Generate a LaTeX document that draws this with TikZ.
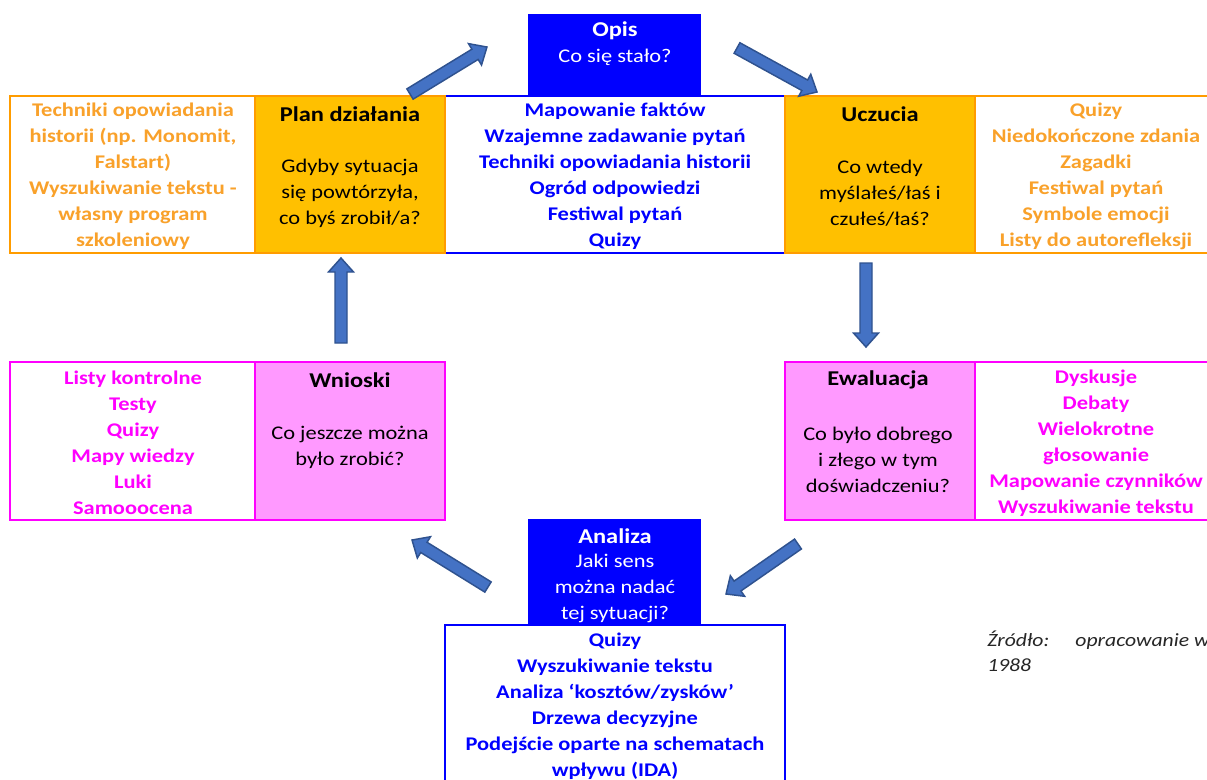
\documentclass[tikz,border=0pt]{standalone}
\usepackage{fontspec}
\setmainfont{Carlito}[FakeStretch=1.16]
\usetikzlibrary{calc}
\definecolor{orfill}{HTML}{FFC000}
\definecolor{orline}{HTML}{FF9C00}
\definecolor{ortext}{HTML}{F9A12A}
\definecolor{mgline}{HTML}{FF00FF}
\definecolor{mgfill}{HTML}{FF99FF}
\definecolor{bl}{HTML}{0000FF}
\definecolor{arfill}{HTML}{4472C4}
\definecolor{arline}{HTML}{2F528F}
\newcommand\blockarrow[2]{%
  \pgfpointdiff{\pgfpointanchor{#1}{center}}{\pgfpointanchor{#2}{center}}%
  \pgfgetlastxy{\bax}{\bay}%
  \pgfmathsetmacro\baang{atan2(\bay,\bax)}%
  \pgfmathsetmacro\balen{veclen(\bax,\bay)}%
  \pgfmathsetmacro\banck{\balen-10.5}%
  \draw[arr, shift={(#1)}, rotate=\baang]
    (0pt,-4.5pt) -- (\banck pt,-4.5pt) -- (\banck pt,-9.4pt) -- (\balen pt,0pt)
    -- (\banck pt,9.4pt) -- (\banck pt,4.5pt) -- (0pt,4.5pt) -- cycle;}
\begin{document}
\begin{tikzpicture}[x=0.75pt,y=-0.75pt,
  arr/.style={fill=arfill, draw=arline, line width=1.1pt, line join=miter},
  orbox/.style={draw=orline, line width=1.6pt},
  mgbox/.style={draw=mgline, line width=1.6pt},
  blbox/.style={draw=bl, line width=1.6pt},
  lst/.style={font=\bfseries\fontsize{14.5}{19.5}\selectfont, align=center, inner sep=0pt},
  ttl/.style={font=\bfseries\fontsize{15.8}{19.5}\selectfont, align=center, inner sep=0pt},
  qst/.style={font=\fontsize{14.5}{19.5}\selectfont, align=center, inner sep=0pt}]
\useasboundingbox (0,0) rectangle (1207,779);
\clip (0,0) rectangle (1207,779);
\fill[white] (0,0) rectangle (1207,779);
% middle top box
\draw[blbox, fill=white] (445,96) rectangle (785,253);
% top row
\draw[orbox, fill=white] (10,96) rectangle (255,253);
\draw[orbox, fill=orfill] (255,96) rectangle (445,253);
\draw[orbox, fill=orfill] (785,96) rectangle (975,253);
\draw[orbox, fill=white] (975,96) rectangle (1230,253);
% middle row
\draw[mgbox, fill=white] (10,362) rectangle (255,520);
\draw[mgbox, fill=mgfill] (255,362) rectangle (445,520);
\draw[mgbox, fill=mgfill] (785,362) rectangle (975,520);
\draw[mgbox, fill=white] (975,362) rectangle (1230,520);
% blue boxes
\fill[bl] (528,14) rectangle (701,96);
\draw[blbox, fill=white] (445,625) rectangle (785,800);
\fill[bl] (528,519) rectangle (701,625);
% texts
\node[ttl, white] (opis) at (615,31) {Opis};
\node[qst, white] (opisq) at (615,57) {Co się stało?};
\node[lst, bl] (opisl) at (615,176.5) {Mapowanie faktów\\Wzajemne zadawanie pytań\\Techniki opowiadania historii\\Ogród odpowiedzi\\Festiwal pytań\\Quizy};
\node[ttl] (plan) at (350,114) {Plan działania};
\node[qst] (planq) at (350,193) {Gdyby sytuacja\\się powtórzyła,\\co byś zrobił/a?};
\node[lst, ortext] (planl) at (133,176.5) {Techniki opowiadania\\historii (np. Monomit,\\Falstart)\\Wyszukiwanie tekstu -\\własny program\\szkoleniowy};
\node[ttl] (ucz) at (880,114) {Uczucia};
\node[qst] (uczq) at (880,193) {Co wtedy\\myślałeś/łaś i\\czułeś/łaś?};
\node[lst, ortext] (uczl) at (1096,176.5) {Quizy\\Niedokończone zdania\\Zagadki\\Festiwal pytań\\Symbole emocji\\Listy do autorefleksji};
\node[ttl] (wn) at (350,380) {Wnioski};
\node[qst] (wnq) at (350,447) {Co jeszcze można\\było zrobić?};
\node[lst, mgline] (wnl) at (133,443) {Listy kontrolne\\Testy\\Quizy\\Mapy wiedzy\\Luki\\Samooocena};
\node[ttl] (ew) at (878,380) {Ewaluacja};
\node[qst] (ewq) at (878,460) {Co było dobrego\\i złego w tym\\doświadczeniu?};
\node[lst, mgline] (ewl) at (1096,443) {Dyskusje\\Debaty\\Wielokrotne\\głosowanie\\Mapowanie czynników\\Wyszukiwanie tekstu};
\node[ttl, white] (an) at (615,536) {Analiza};
\node[qst, white] (anq) at (615,588) {Jaki sens\\można nadać\\tej sytuacji?};
\node[lst, bl] (anl) at (615,706) {Quizy\\Wyszukiwanie tekstu\\Analiza ‘kosztów/zysków’\\Drzewa decyzyjne\\Podejście oparte na schematach\\wpływu (IDA)};
\node[font=\itshape\fontsize{14}{18.75}\selectfont, align=left, anchor=north west, inner sep=0pt, text=black!85] (src) at (987,631) {Źródło:\hspace{1.4em}opracowanie w\\1988};
% arrows
\coordinate (a1s) at (410,94); \coordinate (a1e) at (487,47);
\coordinate (a2s) at (737,48); \coordinate (a2e) at (817,92);
\coordinate (a3s) at (866,263); \coordinate (a3e) at (866,347);
\coordinate (a4s) at (341,343); \coordinate (a4e) at (341,258);
\coordinate (a5s) at (488,587); \coordinate (a5e) at (412,540);
\coordinate (a6s) at (798,544); \coordinate (a6e) at (726,594);
\blockarrow{a1s}{a1e}
\blockarrow{a2s}{a2e}
\blockarrow{a3s}{a3e}
\blockarrow{a4s}{a4e}
\blockarrow{a5s}{a5e}
\blockarrow{a6s}{a6e}
\end{tikzpicture}
\end{document}
